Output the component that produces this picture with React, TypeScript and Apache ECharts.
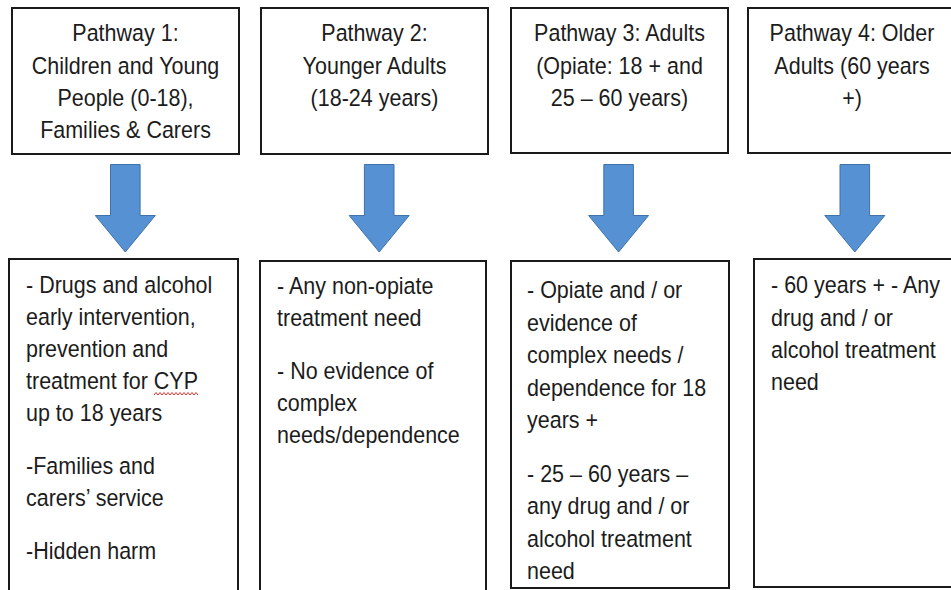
import React, { useEffect, useRef } from "react";
import * as echarts from "echarts";

// ---- content ----
const pathwayTitles: string[][] = [
  ["Pathway 1:", "Children and Young", "People (0-18),", "Families & Carers"],
  ["Pathway 2:", "Younger Adults", "(18-24 years)"],
  ["Pathway 3: Adults", "(Opiate: 18 + and", "25 – 60 years)"],
  ["Pathway 4: Older", "Adults (60 years", "+)"],
];

const pathwayServices: string[][][] = [
  [
    ["- Drugs and alcohol", "early intervention,", "prevention and", "treatment for CYP", "up to 18 years"],
    ["-Families and", "carers’ service"],
    ["-Hidden harm"],
  ],
  [
    ["- Any non-opiate", "treatment need"],
    ["- No evidence of", "complex", "needs/dependence"],
  ],
  [
    ["- Opiate and / or", "evidence of", "complex needs /", "dependence for 18", "years +"],
    ["- 25 – 60 years –", "any drug and / or", "alcohol treatment", "need"],
  ],
  [["- 60 years + - Any", "drug and / or", "alcohol treatment", "need"]],
];

// ---- layout (positions / sizes) ----
const topBoxes = [
  { x: 12, y: 8, w: 227, h: 146 },
  { x: 261, y: 8, w: 227, h: 146 },
  { x: 511, y: 8, w: 217, h: 145 },
  { x: 748, y: 8, w: 215, h: 145 },
];
const bottomBoxes = [
  { x: 9, y: 259, w: 229, h: 336, tx: 26, ty: 285, lh: 32 },
  { x: 260, y: 261, w: 226, h: 334, tx: 277, ty: 286, lh: 32 },
  { x: 511, y: 261, w: 218, h: 327, tx: 527, ty: 290, lh: 32.5 },
  { x: 754, y: 259, w: 210, h: 328, tx: 771, ty: 285, lh: 32.2 },
];
const arrows = [
  { cx: 125.3 },
  { cx: 379.2 },
  { cx: 618.6 },
  { cx: 854.8 },
];

const FONT_SIZE = 21.5;
const SCALE_Y = 1.12;
const FONT = `${FONT_SIZE}px "Liberation Sans", Arial, sans-serif`;
const TEXT_COLOR = "#1c1c1c";
const BORDER = "#1a1a1a";
const ARROW_FILL = "#5591d3";
const ARROW_STROKE = "#3f72a8";

function textEl(text: string, x: number, y: number, align: string) {
  return {
    type: "text",
    x,
    y,
    scaleY: SCALE_Y,
    silent: true,
    style: {
      text,
      x: 0,
      y: 0,
      font: FONT,
      fill: TEXT_COLOR,
      align,
      verticalAlign: "middle",
      textAlign: align,
      textVerticalAlign: "middle",
    },
  };
}

export default function App() {
  const ref = useRef<HTMLDivElement>(null);

  useEffect(() => {
    if (!ref.current) return;
    const chart = echarts.init(ref.current, undefined, { renderer: "svg" });
    const elements: any[] = [];

    // top boxes + titles
    topBoxes.forEach((b, i) => {
      elements.push({
        type: "rect",
        shape: { x: b.x, y: b.y, width: b.w, height: b.h },
        style: { fill: "#ffffff", stroke: BORDER, lineWidth: 2 },
      });
      const cx = b.x + b.w / 2;
      pathwayTitles[i].forEach((line, k) => {
        elements.push(textEl(line, i === 3 ? 852 : cx, 33 + k * 32.3, "center"));
      });
    });

    // arrows
    arrows.forEach((a) => {
      const shaftHalf = 14.8;
      const headHalf = 30;
      const top = 164.5;
      const headY = 215.5;
      const tip = 252;
      elements.push({
        type: "polygon",
        shape: {
          points: [
            [a.cx - shaftHalf, top],
            [a.cx + shaftHalf, top],
            [a.cx + shaftHalf, headY],
            [a.cx + headHalf, headY],
            [a.cx, tip],
            [a.cx - headHalf, headY],
            [a.cx - shaftHalf, headY],
          ],
        },
        style: { fill: ARROW_FILL, stroke: ARROW_STROKE, lineWidth: 1 },
      });
    });

    // bottom boxes + service texts
    bottomBoxes.forEach((b, i) => {
      elements.push({
        type: "rect",
        shape: { x: b.x, y: b.y, width: b.w, height: b.h },
        style: { fill: "#ffffff", stroke: BORDER, lineWidth: 2 },
      });
      let y = b.ty;
      pathwayServices[i].forEach((para, p) => {
        if (p > 0) y += 21;
        para.forEach((line) => {
          elements.push(textEl(line, b.tx, y, "left"));
          y += b.lh;
        });
        y -= b.lh;
        y += b.lh;
      });
    });

    // spell-check squiggle under "CYP"
    const squiggle: number[][] = [];
    for (let x = 154, k = 0; x <= 199; x += 2, k++) {
      squiggle.push([x, k % 2 === 0 ? 395 : 392.5]);
    }
    elements.push({
      type: "polyline",
      shape: { points: squiggle },
      style: { stroke: "#d9342b", lineWidth: 1, fill: null },
    });

    chart.setOption({
      animation: false,
      backgroundColor: "#ffffff",
      graphic: { elements },
    });

    return () => chart.dispose();
  }, []);

  return (
    <div
      ref={ref}
      style={{ position: "fixed", left: 0, top: 0, width: 951, height: 590, background: "#fff" }}
    />
  );
}
